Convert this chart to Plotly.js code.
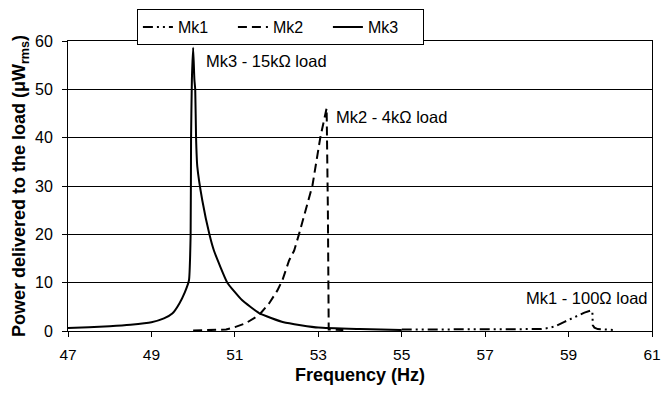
<!DOCTYPE html>
<html>
<head>
<meta charset="utf-8">
<script src="https://cdn.plot.ly/plotly-3.0.1.min.js"></script>
<style>html,body{margin:0;padding:0;background:#fff;}#chart{width:661px;height:394px;}</style>
</head>
<body>
<div id="chart"></div>
<script>
// Mk1 - 100 ohm load (dash-dot)
const mk1Freq = [55.0, 56.0, 57.0, 58.0, 58.26, 58.34, 58.5, 58.66, 58.9, 59.14, 59.38, 59.52, 59.57, 59.58, 59.62, 59.7, 59.9, 60.1];
const mk1Power = [0.3, 0.3, 0.3, 0.3, 0.3, 0.4, 0.6, 0.9, 1.9, 2.9, 3.8, 4.2, 4.1, 1.2, 0.7, 0.4, 0.3, 0.2];

// Mk2 - 4k ohm load (dashed)
const mk2Freq = [50.0, 50.4, 50.79, 51.0, 51.26, 51.58, 51.82, 52.02, 52.14, 52.3, 52.42, 52.54, 52.7, 52.86, 53.05, 53.17, 53.2, 53.23, 53.25, 53.6];
const mk2Power = [0.1, 0.2, 0.3, 0.8, 1.6, 3.3, 5.7, 8.4, 10.5, 14.6, 16.6, 20.1, 25.0, 30.1, 40.1, 44.4, 46.1, 25.0, 0.3, 0.2];

// Mk3 - 15k ohm load (solid)
const mk3Freq = [47.0, 47.5, 48.0, 48.5, 49.0, 49.3, 49.5, 49.67, 49.8, 49.9, 49.94, 49.95, 49.97, 50.0, 50.03, 50.05, 50.07, 50.1, 50.22, 50.39, 50.5, 50.82, 51.17, 51.58, 52.17, 53.0, 54.0, 55.0];
const mk3Power = [0.6, 0.8, 1.0, 1.3, 1.8, 2.6, 3.6, 5.7, 8.0, 10.5, 20.0, 40.0, 52.0, 58.6, 52.0, 50.0, 40.0, 34.0, 27.0, 20.0, 16.6, 10.0, 6.4, 3.7, 1.8, 0.7, 0.4, 0.2];

const xTicks = [47, 49, 51, 53, 55, 57, 59, 61];
const yTicks = [0, 10, 20, 30, 40, 50, 60];

const seriesNames = ['Mk1', 'Mk2', 'Mk3'];
const labelTexts = ['Mk1 - 100\u03A9 load', 'Mk2 - 4k\u03A9 load', 'Mk3 - 15k\u03A9 load'];
const labelFreq = [59.42, 53.38, 50.25];
const labelPower = [6.8, 44.2, 55.8];

const fontFam = '"Liberation Sans", Arial, sans-serif';

const traces = [
  {x: mk1Freq, y: mk1Power, name: seriesNames[0], mode: 'lines', line: {color: '#000', width: 2, dash: '10px,4px,2px,4px,2px,4px'}},
  {x: mk2Freq, y: mk2Power, name: seriesNames[1], mode: 'lines', line: {color: '#000', width: 2, dash: '9px,5px'}},
  {x: mk3Freq, y: mk3Power, name: seriesNames[2], mode: 'lines', line: {color: '#000', width: 2, shape: 'spline', smoothing: 0.4}}
];

const annotations = labelTexts.map((t, i) => ({
  x: labelFreq[i], y: labelPower[i], xref: 'x', yref: 'y', text: t, showarrow: false,
  xanchor: i === 0 ? 'center' : 'left', yanchor: 'middle',
  font: {family: fontFam, size: 16.5, color: '#000'}
}));

const layout = {
  width: 661, height: 394,
  margin: {l: 68, r: 9, t: 39, b: 63},
  paper_bgcolor: '#fff', plot_bgcolor: '#fff',
  font: {family: fontFam, size: 16, color: '#000'},
  showlegend: true,
  legend: {
    orientation: 'h', x: 0.118, y: 1.11, xanchor: 'left', yanchor: 'top',
    bordercolor: '#000', borderwidth: 1, bgcolor: '#fff',
    font: {family: fontFam, size: 16, color: '#000'},
    entrywidth: 50, itemwidth: 30
  },
  xaxis: {
    range: [47, 61], tickvals: xTicks, ticktext: xTicks.map(String),
    showgrid: false, zeroline: false, showline: true, linecolor: '#000', linewidth: 1, mirror: true,
    ticks: 'outside', ticklen: 5, tickcolor: '#000', ticklabeloverflow: 'allow', ticklabelstandoff: 4,
    tickfont: {family: fontFam, size: 15.5, color: '#000'},
    title: {text: '<b>Frequency (Hz)</b>', font: {family: fontFam, size: 18, color: '#000'}, standoff: 6}
  },
  yaxis: {
    range: [0, 60], tickvals: yTicks, ticktext: yTicks.map(String),
    showgrid: true, gridcolor: '#000', gridwidth: 1, zeroline: false,
    showline: true, linecolor: '#000', linewidth: 1, mirror: true,
    ticks: 'outside', ticklen: 5, tickcolor: '#000', ticklabelstandoff: 6,
    tickfont: {family: fontFam, size: 16, color: '#000'},
    title: {text: '<b>Power delivered to the load (\u03BCW<sub>rms</sub>)</b>', font: {family: fontFam, size: 18, color: '#000'}, standoff: 4}
  },
  annotations: annotations
};

Plotly.newPlot('chart', traces, layout, {displayModeBar: false, staticPlot: true});
</script>
</body>
</html>
